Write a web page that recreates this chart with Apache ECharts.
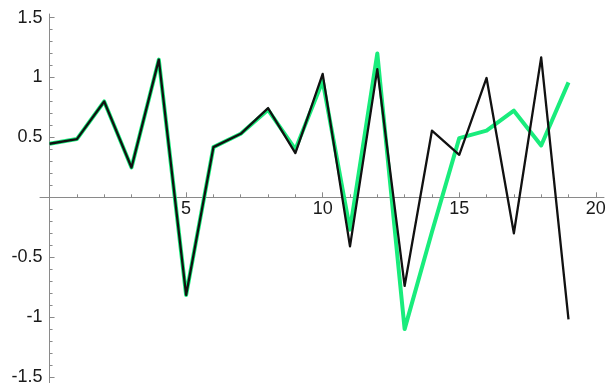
<!DOCTYPE html>
<html>
<head>
<meta charset="utf-8">
<script src="https://cdn.jsdelivr.net/npm/echarts@6/dist/echarts.min.js"></script>
<style>
  html, body { margin: 0; padding: 0; background: #fff; }
  #chart { width: 614px; height: 383px; }
</style>
</head>
<body>
<div id="chart"></div>
<script>
// Sample index along the horizontal axis
const xs = [0, 1, 2, 3, 4, 5, 6, 7, 8, 9, 10, 11, 12, 13, 14, 15, 16, 17, 18, 19];

// Green series (drawn underneath, thicker)
const greenValues = [0.447, 0.486, 0.80, 0.249, 1.149, -0.815, 0.419, 0.53, 0.73, 0.40,
                     0.97, -0.27, 1.20, -1.10, -0.29, 0.494, 0.556, 0.723, 0.433, 0.959];

// Black series (drawn on top)
const blackValues = [0.447, 0.486, 0.80, 0.249, 1.149, -0.815, 0.419, 0.53, 0.745, 0.369,
                     1.03, -0.41, 1.07, -0.74, 0.556, 0.355, 0.996, -0.30, 1.168, -1.018];

// Tick positions and labels
const xMajorTicks = [5, 10, 15, 20];
const xMinorTicks = [1, 2, 3, 4, 6, 7, 8, 9, 11, 12, 13, 14, 16, 17, 18, 19];
const yMajorTicks = [-1.5, -1, -0.5, 0.5, 1, 1.5];
const yMinorTicks = [-1.4, -1.3, -1.2, -1.1, -0.9, -0.8, -0.7, -0.6, -0.4, -0.3, -0.2, -0.1,
                     0.1, 0.2, 0.3, 0.4, 0.6, 0.7, 0.8, 0.9, 1.1, 1.2, 1.3, 1.4];

const X_MIN = -0.35, X_MAX = 20.3, Y_MIN = -1.55, Y_MAX = 1.53;
const axisColor = '#8a8a8a';
const labelFont = { fontFamily: 'Liberation Sans, Arial, sans-serif', fontSize: 18, color: '#1a1a1a' };

// Plot box; axes are shifted so they cross at the origin
const W = 614, H = 383;
const G = { left: 40, right: 10, top: 14, bottom: 0 };
const gw = W - G.left - G.right, gh = H - G.top - G.bottom;
const xAxisShift = -(gh * (0 - Y_MIN) / (Y_MAX - Y_MIN));   // move bottom axis up to y = 0
const yAxisShift = -(gw * (0 - X_MIN) / (X_MAX - X_MIN));   // move left axis right to x = 0

const chart = echarts.init(document.getElementById('chart'), null, { renderer: 'canvas' });

function xAxisDef(ticks, len, withLabels, showLine) {
  return {
    type: 'value', min: X_MIN, max: X_MAX, position: 'bottom', offset: xAxisShift,
    axisLine: { show: showLine, onZero: false, lineStyle: { color: axisColor, width: 1 } },
    axisTick: { show: true, inside: true, length: len, customValues: ticks,
                lineStyle: { color: axisColor, width: 1 } },
    axisLabel: withLabels
      ? Object.assign({ show: true, customValues: ticks, margin: 3 }, labelFont)
      : { show: false },
    splitLine: { show: false }
  };
}
function yAxisDef(ticks, len, withLabels, showLine) {
  return {
    type: 'value', min: Y_MIN, max: Y_MAX, position: 'left', offset: yAxisShift,
    axisLine: { show: showLine, onZero: false, lineStyle: { color: axisColor, width: 1 } },
    axisTick: { show: true, inside: true, length: len, customValues: ticks,
                lineStyle: { color: axisColor, width: 1 } },
    axisLabel: withLabels
      ? Object.assign({ show: true, customValues: ticks, margin: 7,
                        formatter: v => String(v) }, labelFont)
      : { show: false },
    splitLine: { show: false }
  };
}

chart.setOption({
  animation: false,
  backgroundColor: '#ffffff',
  grid: { left: G.left, right: G.right, top: G.top, bottom: G.bottom,
          containLabel: false, outerBoundsMode: 'none' },
  xAxis: [
    xAxisDef(xMajorTicks, 5, true, true),
    xAxisDef(xMinorTicks, 3, false, false)
  ],
  yAxis: [
    yAxisDef(yMajorTicks, 5, true, true),
    yAxisDef(yMinorTicks, 3, false, false)
  ],
  series: [
    {
      type: 'line', xAxisIndex: 0, yAxisIndex: 0,
      data: xs.map((x, i) => [x, greenValues[i]]),
      showSymbol: false, symbol: 'none',
      lineStyle: { color: '#19ec7c', width: 4, join: 'round' },
      z: 2
    },
    {
      type: 'line', xAxisIndex: 0, yAxisIndex: 0,
      data: xs.map((x, i) => [x, blackValues[i]]),
      showSymbol: false, symbol: 'none',
      lineStyle: { color: '#111111', width: 2.3, join: 'round' },
      z: 3
    }
  ]
});
</script>
</body>
</html>
